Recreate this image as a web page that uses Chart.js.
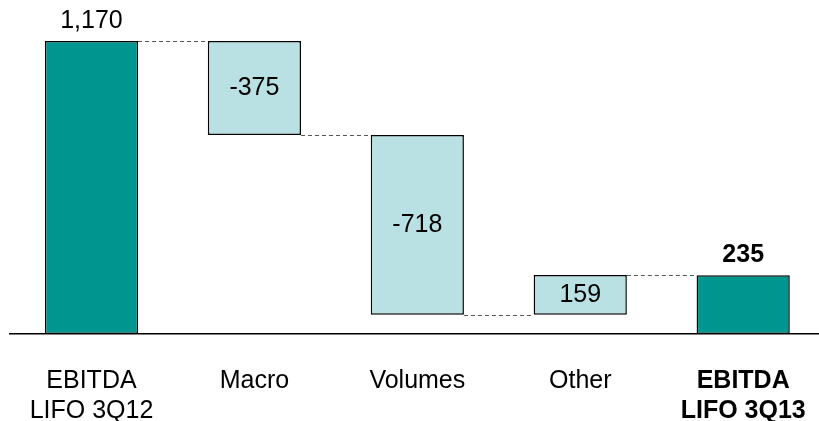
<!DOCTYPE html>
<html>
<head>
<meta charset="utf-8">
<script src="https://cdn.jsdelivr.net/npm/chart.js@4"></script>
<style>
  html, body { margin: 0; padding: 0; background: #fff; overflow: hidden; }
  canvas { display: block; }
</style>
</head>
<body>
<canvas id="chart" width="830" height="421"></canvas>
<script>
const categories = [['EBITDA', 'LIFO 3Q12'], 'Macro', 'Volumes', 'Other', ['EBITDA', 'LIFO 3Q13']];
const deltas = [1170, -375, -718, 159, 235];
const isTotal = [true, false, false, false, true];
const valueLabels = ['1,170', '-375', '-718', '159', '235'];

const DARK = '#009690';
const LIGHT = '#B9E0E2';
const FONT = '"Liberation Sans", Arial, sans-serif';

// build floating ranges for the waterfall
let running = 0;
const ranges = deltas.map((d, i) => {
  if (isTotal[i]) { running = d; return [0, d]; }
  const start = running;
  running += d;
  return [start, running];
});

const waterfallExtras = {
  id: 'waterfallExtras',
  afterDatasetsDraw(chart) {
    const { ctx, scales: { y } } = chart;
    const meta = chart.getDatasetMeta(0);
    ctx.save();
    // dashed connectors
    ctx.strokeStyle = '#555';
    ctx.lineWidth = 1;
    ctx.setLineDash([4, 3]);
    for (let i = 0; i < ranges.length - 1; i++) {
      const level = ranges[i][1];
      const a = meta.data[i], b = meta.data[i + 1];
      const yy = Math.round(y.getPixelForValue(level)) + 0.5;
      ctx.beginPath();
      ctx.moveTo(a.x + a.width / 2, yy);
      ctx.lineTo(b.x - b.width / 2, yy);
      ctx.stroke();
    }
    ctx.setLineDash([]);
    // value labels
    ctx.fillStyle = '#000';
    ctx.textAlign = 'center';
    ctx.textBaseline = 'middle';
    meta.data.forEach((bar, i) => {
      if (isTotal[i]) {
        ctx.font = (i === 4 ? 'bold ' : '') + '25px ' + FONT;
        ctx.fillText(valueLabels[i], bar.x, y.getPixelForValue(ranges[i][1]) - 20);
      } else {
        ctx.font = '25px ' + FONT;
        const mid = (ranges[i][0] + ranges[i][1]) / 2;
        ctx.fillText(valueLabels[i], bar.x, y.getPixelForValue(mid));
      }
    });
    ctx.restore();
  }
};

new Chart(document.getElementById('chart'), {
  type: 'bar',
  data: {
    labels: categories,
    datasets: [{
      data: ranges,
      backgroundColor: isTotal.map(t => t ? DARK : LIGHT),
      borderColor: '#000',
      borderWidth: 1.5,
      borderSkipped: false,
      barPercentage: 0.572,
      categoryPercentage: 1,
    }]
  },
  options: {
    responsive: false,
    animation: false,
    layout: { padding: { left: 10, right: 3, top: 0, bottom: 0 } },
    plugins: {
      legend: { display: false },
      tooltip: { enabled: false }
    },
    scales: {
      x: {
        grid: { display: false },
        border: { color: '#000', width: 1.5 },
        afterFit: (scale) => { scale.height = 87; },
        ticks: {
          color: '#000',
          padding: 24,
          maxRotation: 0,
          autoSkip: false,
          font: (c) => ({
            family: FONT,
            size: 25,
            lineHeight: 1.2,
            weight: c.index === 4 ? 'bold' : 'normal'
          })
        }
      },
      y: {
        display: false,
        min: 0,
        max: 1334
      }
    }
  },
  plugins: [waterfallExtras]
});
</script>
</body>
</html>
